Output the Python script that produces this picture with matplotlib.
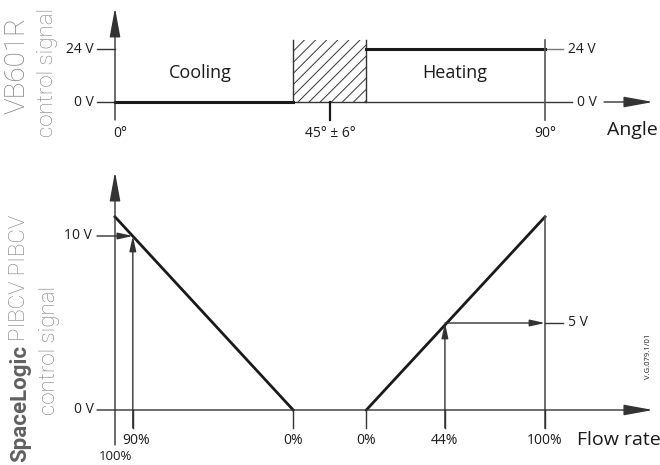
import matplotlib
matplotlib.use("Agg")
import matplotlib.pyplot as plt

# top panel: VB601R signal against valve angle (schematic positions)
angle_ticks = [0, 45, 90]
angle_labels = ["0°", "45° ± 6°", "90°"]
band = [37.3, 52.6]          # drawn extent of the 45° ± 6° dead band
top_volts = [0, 24]
top_vlabels = ["0 V", "24 V"]

# bottom panel: PIBCV signal against flow rate
flow_ramp = [100, 0]         # each ramp runs from 100 % to 0 % flow
ramp_volts = [11.1, 0]
cool_marks = [100, 90, 0]
heat_marks = [0, 44, 100]
read_flow = [90, 44]         # read-off examples
read_volt = [10, 5]

INK = "#1a1a1a"
AX = "#333333"
GREY = "#7f7f7f"
FONT = "Open Sans"

plt.rcParams["hatch.linewidth"] = 0.7


def cool_x(f):
    # cooling ramp sits left of the dead band, mirrored
    return band[0] * (1 - f / 100)


def heat_x(f):
    return band[1] + (90 - band[1]) * f / 100


def arrow(ax, x0, y0, x1, y1, big=False, color=AX, lw=1.0):
    if big:
        style = "-|>,head_length=1.2,head_width=0.22"
        ms = 15
    else:
        style = "-|>,head_length=0.9,head_width=0.2"
        ms = 10
    ax.annotate("", xy=(x1, y1), xytext=(x0, y0),
                arrowprops=dict(arrowstyle=style, mutation_scale=ms,
                                color=color, lw=lw, shrinkA=0, shrinkB=0))


fig = plt.figure(figsize=(6.6, 4.65), dpi=100)
top = fig.add_axes([0, 0, 1, 1])
bot = fig.add_axes([0, 0, 1, 1])
for ax in (top, bot):
    ax.set_xlim(-24.07, 114.07)
    ax.axis("off")
    ax.patch.set_alpha(0)
top.set_ylim(-164.38, 46.19)
bot.set_ylim(-3.161, 23.563)

txt = dict(family=FONT, color=INK)

# ---- top panel ----
arrow(top, 0, -8.15, 0, 42.6, big=True)
top.plot([-3.77, 95.65], [0, 0], color=AX, lw=1.0)
arrow(top, 102.35, 0, 112.6, 0, big=True)
top.text(98.8, 0, "0 V", ha="center", va="center", fontsize=10, **txt)
top.plot([-3.77, 0], [24, 24], color=AX, lw=1.0)
top.plot([90, 93.77], [24, 24], color="#777777", lw=1.0)
for v, lab in zip(top_volts, top_vlabels):
    top.text(-4.4, v, lab, ha="right", va="center", fontsize=10, **txt)
top.text(94.8, 24, "24 V", ha="left", va="center", fontsize=10, **txt)

top.fill_between(band, 0, 28.08, facecolor="none", edgecolor="#333333",
                 hatch="///", lw=0)
top.plot([band[0], band[0]], [0, 28.08], color=AX, lw=1.0)
top.plot([band[1], band[1]], [0, 28.08], color=AX, lw=1.0)
top.plot([0, band[0]], [0, 0], color=INK, lw=2.2)
top.plot([band[1], 90], [24, 24], color=INK, lw=2.2)
top.plot([90, 90], [-8.15, 28.08], color="#555555", lw=1.2)
top.plot([45, 45], [-8.15, 0], color=INK, lw=1.6)

for a, lab in zip(angle_ticks, angle_labels):
    top.text(a + (1 if a == 0 else 0), -14.04, lab, ha="center", va="center",
             fontsize=10, **txt)
top.text(103, -12.68, "Angle", ha="left", va="center", fontsize=14, **txt)
top.text(17.8, 13.1, "Cooling", ha="center", va="center", fontsize=13, **txt)
top.text(71.2, 13.1, "Heating", ha="center", va="center", fontsize=13, **txt)

# ---- bottom panel ----
arrow(bot, 0, -2.01, 0, 13.68, big=True)
arrow(bot, -3.77, 0, 112.6, 0, big=True)
bot.text(-4.4, 0, "0 V", ha="right", va="center", fontsize=10, **txt)

bot.plot([cool_x(f) for f in flow_ramp], ramp_volts, color=INK, lw=2.0)
bot.plot([heat_x(f) for f in flow_ramp[::-1]], ramp_volts[::-1],
         color=INK, lw=2.0)
bot.plot([90, 90], [-1.03, ramp_volts[0]], color="#555555", lw=1.2)

for f in cool_marks[1:]:
    bot.plot([cool_x(f)] * 2, [-1.03, 0], color=AX, lw=1.0)
for f in heat_marks:
    bot.plot([heat_x(f)] * 2, [-1.03, 0], color=AX, lw=1.0)

# 90 % -> 10 V read-off
x90 = cool_x(read_flow[0])
arrow(bot, x90, -1.03, x90, read_volt[0])
arrow(bot, -3.77, read_volt[0], x90, read_volt[0])
bot.text(-4.8, read_volt[0], "10 V", ha="right", va="center", fontsize=10, **txt)

# 44 % -> 5 V read-off
x44 = heat_x(read_flow[1])
arrow(bot, x44, -1.03, x44, read_volt[1])
arrow(bot, x44, read_volt[1], 90, read_volt[1])
bot.plot([90, 93.77], [read_volt[1]] * 2, color=AX, lw=1.0)
bot.text(94.8, read_volt[1], "5 V", ha="left", va="center", fontsize=10, **txt)

for f in cool_marks:
    if f == 100:
        bot.text(cool_x(f), -2.7, "100%", ha="center", va="center",
                 fontsize=9.5, **txt)
    else:
        bot.text(cool_x(f) + (0.6 if f == 90 else 0), -1.78, f"{f}%",
                 ha="center", va="center", fontsize=10, **txt)
for f in heat_marks:
    bot.text(heat_x(f), -1.78, f"{f}%", ha="center", va="center",
             fontsize=10, **txt)
bot.text(96.7, -1.72, "Flow rate", ha="left", va="center", fontsize=14, **txt)
bot.text(111.6, 3.1, "V.G.079.1/01", rotation=90, ha="center", va="center",
         fontsize=5.5, **txt)

# ---- side titles ----
side = dict(family="Roboto", weight="light", color=GREY, rotation=90,
            ha="center", va="center")
fig.text(17 / 660, 1 - 65 / 465, "VB601R", fontsize=20, **side)
fig.text(48 / 660, 1 - 72 / 465, "control signal", fontsize=16, **side)
fig.text(50 / 660, 1 - 350 / 465, "control signal", fontsize=16, **side)
t1 = fig.text(20 / 660, 1 - 462 / 465, "SpaceLogic", rotation=90, ha="center",
              va="bottom", fontsize=16, family="Roboto", weight="bold",
              color="#606060")
fig.canvas.draw()
bb = t1.get_window_extent()
fig.text(20 / 660, (bb.y1 + 4) / 465, "PIBCV PIBCV", rotation=90,
         ha="center", va="bottom", fontsize=16, family="Roboto",
         weight="light", color=GREY)

fig.savefig("out.png", dpi=100)
